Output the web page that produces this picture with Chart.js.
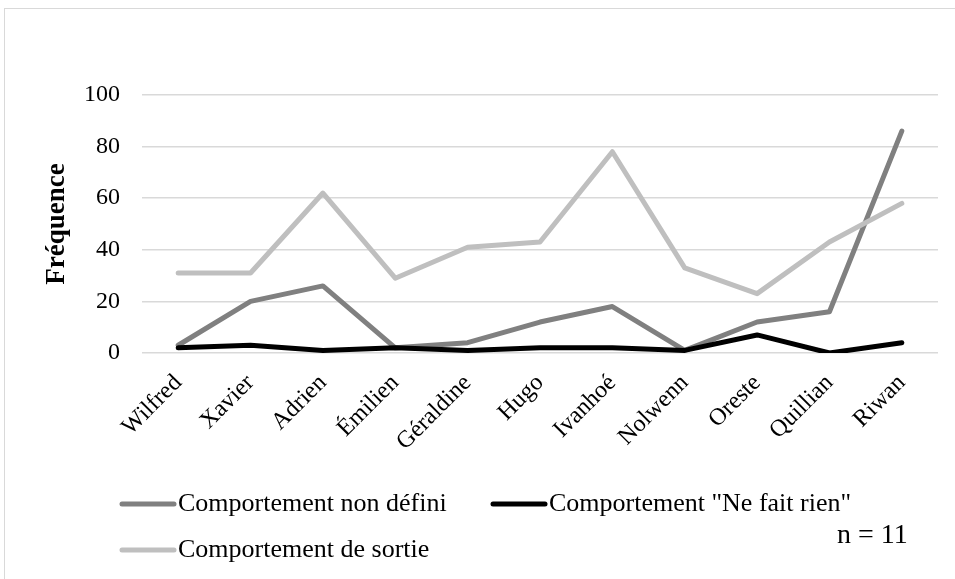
<!DOCTYPE html>
<html>
<head>
<meta charset="utf-8">
<script src="https://cdn.jsdelivr.net/npm/chart.js@4"></script>
<style>
  body { margin: 0; background: #fff; }
  #wrap { position: relative; width: 955px; height: 579px; overflow: hidden; }
  #frame { position: absolute; left: 4px; top: 8px; width: 1000px; height: 1000px; border: 1px solid #d9d9d9; }
  canvas { position: absolute; left: 0; top: 0; }
</style>
</head>
<body>
<div id="wrap">
  <div id="frame"></div>
  <canvas id="grafico1" width="955" height="579"></canvas>
</div>
<script>
const noms = ['Wilfred', 'Xavier', 'Adrien', 'Émilien', 'Géraldine', 'Hugo', 'Ivanhoé', 'Nolwenn', 'Oreste', 'Quillian', 'Riwan']
const nonDefini = [3, 20, 26, 2, 4, 12, 18, 1, 12, 16, 86]
const neFaitRien = [2, 3, 1, 2, 1, 2, 2, 1, 7, 0, 4]
const sortie = [31, 31, 62, 29, 41, 43, 78, 33, 23, 43, 58]
const yTicks = [0, 20, 40, 60, 80, 100]

const serif = '"Liberation Serif", "Times New Roman", serif'

const serie = (label, data, color, order) => ({
  label: label,
  data: data,
  borderColor: color,
  backgroundColor: color,
  borderWidth: 5,
  borderCapStyle: 'round',
  borderJoinStyle: 'round',
  pointRadius: 0,
  tension: 0,
  order: order
})

// legende facon Excel, en deux colonnes + la note n = 11
const legende = {
  id: 'legende',
  afterDraw(chart) {
    const c = chart.ctx
    const pos = [[122, 504], [493, 504], [122, 550]]
    c.save()
    c.font = '26px ' + serif
    c.textBaseline = 'alphabetic'
    chart.data.datasets.forEach((ds, i) => {
      const [x, y] = pos[i]
      c.strokeStyle = ds.borderColor
      c.lineWidth = 5
      c.lineCap = 'round'
      c.beginPath()
      c.moveTo(x, y)
      c.lineTo(x + 52, y)
      c.stroke()
      c.fillStyle = '#000'
      c.fillText(ds.label, x + 56, y + 7)
    })
    c.font = '28px ' + serif
    c.fillText('n = 11', 837, 543)
    c.restore()
  }
}

const ctx = document.getElementById('grafico1')

let grafico = new Chart(ctx, {
  type: 'line',
  data: {
    labels: noms,
    datasets: [
      serie('Comportement non défini', nonDefini, '#808080', 3),
      serie('Comportement "Ne fait rien"', neFaitRien, '#000000', 2),
      serie('Comportement de sortie', sortie, '#bfbfbf', 1)
    ]
  },
  options: {
    responsive: false,
    animation: false,
    layout: { padding: { left: 40, right: 17, top: 95, bottom: 106 } },
    plugins: {
      legend: { display: false },
      tooltip: { enabled: false }
    },
    scales: {
      x: {
        offset: true,
        grid: { display: false },
        border: { display: false },
        ticks: {
          color: '#000',
          font: { family: serif, size: 24 },
          minRotation: 45,
          maxRotation: 45,
          padding: 8
        },
        afterFit: (axis) => { axis.height = 120 }
      },
      y: {
        min: 0,
        max: 100,
        afterBuildTicks: (axis) => { axis.ticks = yTicks.map(v => ({ value: v })) },
        grid: { color: '#d9d9d9', lineWidth: 1.5, drawTicks: false },
        border: { display: false },
        ticks: {
          color: '#000',
          font: { family: serif, size: 24 },
          padding: 22
        },
        title: {
          display: true,
          text: 'Fréquence',
          color: '#000',
          font: { family: serif, size: 27, weight: 'bold' },
          padding: { top: 1, bottom: 0 }
        },
        afterFit: (axis) => { axis.width = 102 }
      }
    }
  },
  plugins: [legende]
})
</script>
</body>
</html>
